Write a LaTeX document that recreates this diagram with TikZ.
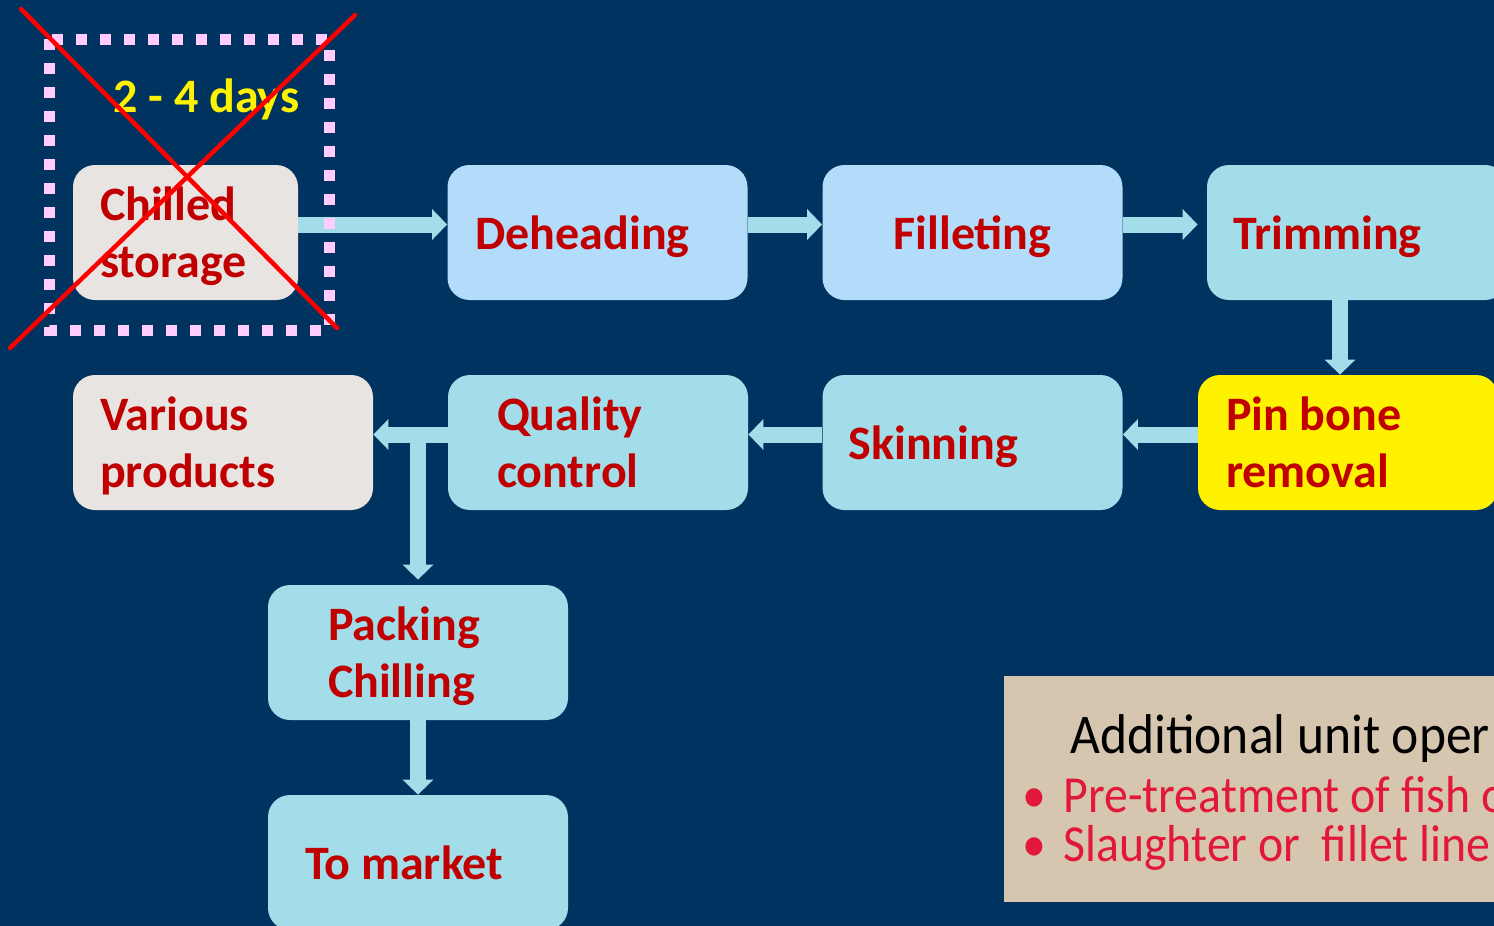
\documentclass[tikz,border=0pt]{standalone}
\usepackage{fontspec}
\setmainfont{Carlito}
\newfontfamily\notefont[FakeStretch=0.92]{Carlito}
\usetikzlibrary{arrows.meta}
\definecolor{bgnavy}{RGB}{0,51,96}
\definecolor{stepred}{RGB}{192,0,0}
\definecolor{paleblue}{RGB}{178,220,250}
\definecolor{palecyan}{RGB}{162,221,233}
\definecolor{palegrey}{RGB}{232,228,225}
\definecolor{dotpink}{RGB}{255,204,255}
\definecolor{crossred}{RGB}{255,0,0}
\definecolor{notetan}{RGB}{214,198,176}
\definecolor{notered}{RGB}{226,24,58}
\tikzset{
  stepbox/.style={rounded corners=11pt, minimum height=67.5pt, inner ysep=0pt,
    align=flush left, text=stepred, font=\fontsize{24}{28.5}\selectfont\bfseries,
    text height=16.5pt, text depth=0pt},
  twoline/.style={text depth=28.5pt},
  lpad/.style 2 args={inner xsep=#1, text width=#2},
  flow/.style={draw=palecyan, line width=8pt, -{Triangle[width=15pt,length=7.5pt]}},
  noteline/.style={anchor=base west, inner sep=0pt},
}

\begin{document}
\begin{tikzpicture}[x=0.5pt,y=-0.5pt]
\useasboundingbox (0,0) rectangle (1494,926);
\clip (0,0) rectangle (1494,926);
\fill[bgnavy] (0,0) rectangle (1494,926);
% Drawing steps
\node[stepbox, twoline, fill=palegrey, lpad={13.5pt}{85.5pt}] (chill) at (185.5,232.5) {Chilled\\storage};
\node[stepbox, fill=paleblue, lpad={14pt}{122pt}] (dehead) at (597.5,232.5) {Deheading};
\node[stepbox, fill=paleblue, lpad={0pt}{150pt}, align=flush center] (fillet) at (972.5,232.5) {Filleting};
\node[stepbox, fill=palecyan, lpad={13pt}{124pt}] (trim) at (1357,232.5) {Trimming};
\node[stepbox, twoline, fill=yellow, lpad={14pt}{122pt}] (pinbone) at (1348,442.5) {Pin bone\\removal};
\node[stepbox, fill=palecyan, lpad={13pt}{124pt}] (skin) at (972.5,442.5) {Skinning};
\node[stepbox, twoline, fill=palecyan, lpad={24.5pt}{101pt}] (quality) at (598,442.5) {Quality\\control};
\node[stepbox, twoline, fill=palegrey, lpad={13.5pt}{123pt}] (various) at (223,442.5) {Various\\products};
\node[stepbox, twoline, fill=palecyan, lpad={30pt}{90pt}] (packing) at (418,652.5) {Packing\\Chilling};
\node[stepbox, fill=palecyan, lpad={18.5pt}{113pt}] (market) at (418,862.5) {To market};
% Done with steps; drawing arrows
\draw[flow] ([yshift=4pt]chill.east) -- ([yshift=4pt]dehead.west);
\draw[flow] ([yshift=4pt]dehead.east) -- ([yshift=4pt]fillet.west);
\draw[flow, shorten >=4.5pt] ([yshift=4pt]fillet.east) -- ([yshift=4pt]trim.west);
\path ([xshift=-8.5pt]trim.south) coordinate (trimfoot);
\draw[flow] (trimfoot) -- (trimfoot |- pinbone.north);
\draw[flow] ([yshift=4pt]pinbone.west) -- ([yshift=4pt]skin.east);
\draw[flow] ([yshift=4pt]skin.west) -- ([yshift=4pt]quality.east);
\draw[flow] ([yshift=4pt]quality.west) -- ([yshift=4pt]various.east);
\path ([yshift=4pt]quality.west) coordinate (qcout);
\coordinate (split) at (qcout -| packing.north);
\draw[flow, shorten >=2.5pt] (split) -- (packing.north);
\draw[flow] (packing) -- (market);
% Crossed-out holding time
\node[anchor=base west, inner sep=0pt, text=yellow, font=\fontsize{24}{28.5}\selectfont\bfseries] (days) at (113,112) {2 - 4 days};
\draw[dotpink, line width=5.5pt, dash pattern=on 5.5pt off 6.5pt] (49,39) rectangle (329,330);
\draw[crossred, line width=2.25pt, line cap=round] (21,9) -- (337,328) (355,15) -- (10,348);
% Note box
\node[fill=notetan, anchor=north west, minimum width=260pt, minimum height=113pt, inner sep=0pt] (note) at (1004,676) {};
\node[noteline, font=\notefont\fontsize{28}{33}\selectfont] (notehead) at (1070,753) {Additional unit oper};
\node[noteline, text=notered, font=\notefont\fontsize{26}{31}\selectfont] (pretreat) at (1022,812) {\makebox[20.5pt][l]{•}Pre-treatment of fish o};
\node[noteline, text=notered, font=\notefont\fontsize{26}{31}\selectfont] (slaughter) at (1022,861) {\makebox[20.5pt][l]{•}Slaughter or\ \ fillet line};
\end{tikzpicture}
\end{document}
